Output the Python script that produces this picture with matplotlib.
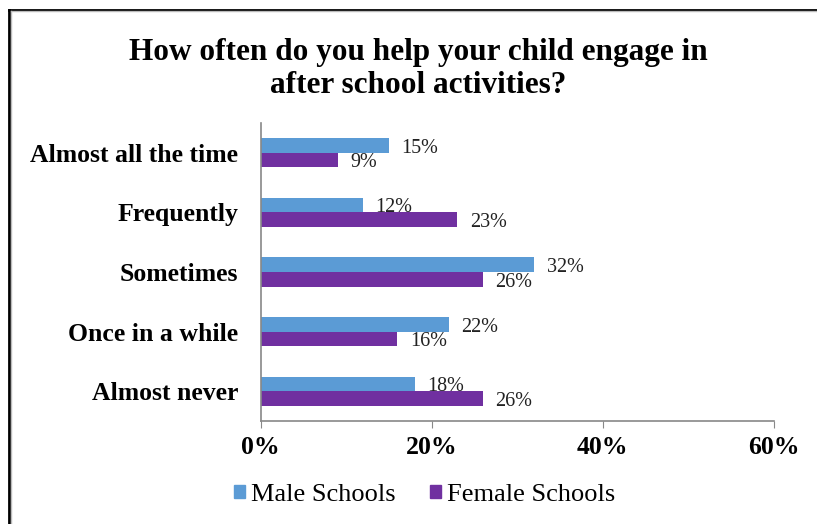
import matplotlib
matplotlib.use('Agg')
import matplotlib.pyplot as plt
import numpy as np
from matplotlib.lines import Line2D
from matplotlib.patches import Patch

categories = ["Almost all the time", "Frequently", "Sometimes", "Once in a while", "Almost never"]
male = [15, 12, 32, 22, 18]
female = [9, 23, 26, 16, 26]
xticks = [0, 20, 40, 60]
xtick_labels = ["0%", "20%", "40%", "60%"]
series_names = ["Male Schools", "Female Schools"]
title = "How often do you help your child engage in\nafter school activities?"

BLUE = '#5B9BD5'
PURPLE = '#7030A0'
SERIF = ['Liberation Serif', 'DejaVu Serif']

W, H = 817, 524
fig = plt.figure(figsize=(W / 100, H / 100), dpi=100)
ax = fig.add_axes([260.5 / W, 1 - 421 / H, (774 - 260.5) / W, (421 - 123) / H])

y = np.arange(len(categories))
h = 0.245
ax.barh(y - h / 2, male, height=h, color=BLUE)
ax.barh(y + h / 2, female, height=h, color=PURPLE)

for vals, off in ((male, -h / 2), (female, h / 2)):
    for i, v in enumerate(vals):
        ax.annotate(f"{v}%", xy=(v, i + off), xytext=(9, -2), textcoords='offset points',
                    ha='left', va='center', fontsize=14.5, family=SERIF, color='#222222')

ax.set_xlim(0, 60)
ax.set_ylim(len(categories) - 0.5, -0.5)
ax.set_xticks(xticks)
ax.set_xticklabels(xtick_labels, fontsize=18.5, fontweight='bold', family=SERIF)
ax.set_yticks(y)
ax.set_yticklabels(categories, fontsize=18.5, fontweight='bold', family=SERIF)
ax.tick_params(axis='y', length=0, pad=16)
ax.tick_params(axis='x', length=5, direction='out', color='#888888', pad=6)
for s in ('top', 'right'):
    ax.spines[s].set_visible(False)
for s in ('left', 'bottom'):
    ax.spines[s].set_color('#888888')
    ax.spines[s].set_linewidth(1.2)

fig.text(418 / W, 1 - 69 / H, title, ha='center', va='center', fontsize=22.5,
         fontweight='bold', family=SERIF, linespacing=1.2)

handles = [Patch(color=BLUE), Patch(color=PURPLE)]
fig.legend(handles, series_names, loc='center', bbox_to_anchor=(425 / W, 1 - 495 / H),
           ncol=2, frameon=False, prop={'family': SERIF, 'size': 19},
           handlelength=0.4, handleheight=0.4, handletextpad=0.25, columnspacing=1.3)

# figure border (left and top visible)
fig.add_artist(Line2D([8.5 / W, 8.5 / W], [0, 1 - 9.5 / H], transform=fig.transFigure, color='black', lw=2))
fig.add_artist(Line2D([8.5 / W, 1], [1 - 9.5 / H, 1 - 9.5 / H], transform=fig.transFigure, color='black', lw=2))
fig.add_artist(Line2D([10.5 / W, 10.5 / W], [0, 1 - 11 / H], transform=fig.transFigure, color='#bbbbbb', lw=1))
fig.add_artist(Line2D([10.5 / W, 1], [1 - 11 / H, 1 - 11 / H], transform=fig.transFigure, color='#bbbbbb', lw=1))

fig.savefig('out.png', dpi=100)
